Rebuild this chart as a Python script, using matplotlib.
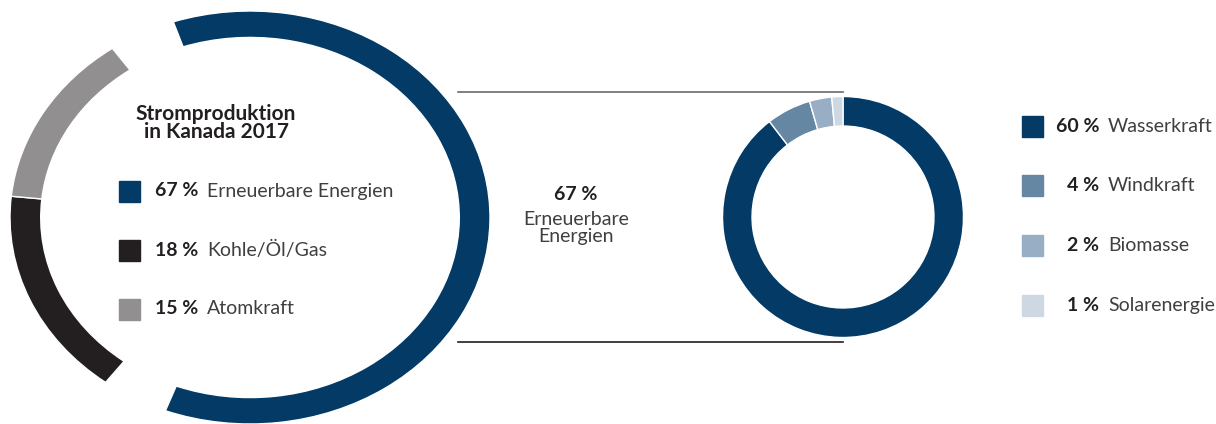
import matplotlib

matplotlib.use("Agg")
import matplotlib.pyplot as plt

# data
main_labels = ["Erneuerbare Energien", "Kohle/Öl/Gas", "Atomkraft"]
main_values = [67, 18, 15]
main_colors = ["#033a66", "#231f20", "#918f90"]

renew_labels = ["Wasserkraft", "Windkraft", "Biomasse", "Solarenergie"]
renew_values = [60, 4, 2, 1]
renew_colors = ["#033a66", "#6587a3", "#97aec4", "#cdd8e2"]

title = "Stromproduktion\nin Kanada 2017"

plt.rcParams["font.family"] = ["Lato", "DejaVu Sans"]

W, H = 1216, 424
fig = plt.figure(figsize=(W / 100, H / 100), dpi=100)


def px_axes(x0, y0, w, h):
    # axes placed by pixel box, y measured from the top
    return fig.add_axes([x0 / W, (H - y0 - h) / H, w / W, h / H])


# big ring (drawn slightly elliptic like the original)
gap = 5
total = sum(main_values) + 2 * gap
vals = [main_values[0], gap, main_values[1], main_values[2], gap]
cols = [main_colors[0], "none", main_colors[1], main_colors[2], "none"]
ax1 = px_axes(10, 11, 480, 413)
wedges, _ = ax1.pie(
    vals,
    colors=cols,
    startangle=360 * main_values[0] / total / 2 - 1,
    counterclock=False,
    radius=1,
    wedgeprops=dict(width=0.128, edgecolor="white", linewidth=1),
)
for w, c in zip(wedges, cols):
    if c == "none":
        w.set_edgecolor("none")
ax1.set_aspect("auto")
ax1.set_xlim(-1, 1)
ax1.set_ylim(-1, 1)
ax1.axis("off")

# small donut
ax2 = px_axes(843 - 120.5, 217 - 120.5, 241, 241)
ax2.pie(
    renew_values,
    colors=renew_colors,
    startangle=90,
    counterclock=False,
    radius=1,
    wedgeprops=dict(width=0.245, edgecolor="white", linewidth=1),
)
ax2.set_xlim(-1, 1)
ax2.set_ylim(-1, 1)
ax2.axis("off")

# overlay for text and connector lines
ov = fig.add_axes([0, 0, 1, 1], zorder=-1)
ov.set_xlim(0, W)
ov.set_ylim(H, 0)
ov.axis("off")

ov.plot([458, 843], [92, 92], color="#6b6b6b", lw=1.2)
ov.plot([458, 843], [342, 342], color="#231f20", lw=1.2)

dark = "#231f20"
grey = "#3f3f3f"
fs = 14

ov.text(216, 123, title, ha="center", va="center", fontsize=15, fontweight="bold",
        color=dark, linespacing=0.92)

for i, (lab, val, col) in enumerate(zip(main_labels, main_values, main_colors)):
    y = 191 + i * 59
    ov.add_patch(plt.Rectangle((119, y - 10.5), 21, 21, color=col))
    ov.text(198, y, f"{val} %", ha="right", va="center", fontsize=fs,
            fontweight="bold", color=dark)
    ov.text(207, y, lab, ha="left", va="center", fontsize=fs, color=grey)

ov.text(576, 195, f"{main_values[0]} %", ha="center", va="center", fontsize=fs,
        fontweight="bold", color=dark)
ov.text(576, 228, "Erneuerbare\nEnergien", ha="center", va="center", fontsize=fs,
        color=grey, linespacing=1.0)

for i, (lab, val, col) in enumerate(zip(renew_labels, renew_values, renew_colors)):
    y = 126 + i * 59.7
    ov.add_patch(plt.Rectangle((1022, y - 10.5), 21, 21, color=col))
    ov.text(1099, y, f"{val} %", ha="right", va="center", fontsize=fs,
            fontweight="bold", color=dark)
    ov.text(1108, y, lab, ha="left", va="center", fontsize=fs, color=grey)

fig.savefig("out.png", dpi=100)
